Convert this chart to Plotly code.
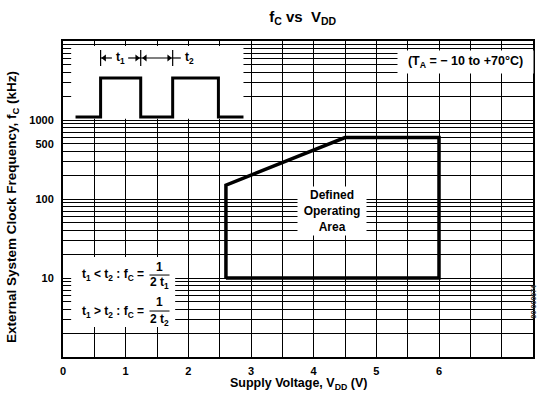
import math
import plotly.graph_objects as go

# Boundary of the defined operating area: supply voltage (V) vs clock frequency (kHz)
area_vdd = [2.6, 2.6, 4.5, 6.0, 6.0, 2.6]
area_fc = [10, 150, 600, 600, 10, 10]

# Axis ticks
x_tick_vals = [0, 1, 2, 3, 4, 5, 6]
x_tick_text = ["0", "1", "2", "3", "4", "5", "6"]
y_tick_vals = [10, 100, 500, 1000]
y_tick_text = ["10", "100", "500", "1000"]

# Clock waveform sketch (t1 high / t2 low)
pulse_x = [0.2, 0.6, 0.6, 1.24, 1.24, 1.75, 1.75, 2.48, 2.48, 2.88]
pulse_y = [1090, 1090, 3400, 3400, 1090, 1090, 3400, 3400, 1090, 1090]

FONT = "Liberation Sans, Arial, Helvetica, sans-serif"
BLACK = "#000000"
DIM_Y = 6095  # height of the t1/t2 dimension line

minor_x = [0.5 * i for i in range(16)]
minor_y = [m * 10 ** k for k in range(4) for m in range(1, 10)] + [10000]

fig = go.Figure()


def white_box(x0, x1, y0, y1):
    fig.add_trace(go.Scatter(
        x=[x0, x1, x1, x0, x0], y=[y0, y0, y1, y1, y0],
        mode="lines", fill="toself", fillcolor="white",
        line=dict(width=0, color="white"), hoverinfo="skip"))


def seg(xs, ys, width=1.2):
    fig.add_trace(go.Scatter(x=xs, y=ys, mode="lines",
                             line=dict(color=BLACK, width=width),
                             hoverinfo="skip"))


def heads(xs, symbol):
    fig.add_trace(go.Scatter(x=xs, y=[DIM_Y] * len(xs), mode="markers",
                             marker=dict(symbol=symbol, size=6, color=BLACK,
                                         line=dict(width=0)),
                             hoverinfo="skip"))


# blank panels for the waveform sketch and the formulas
white_box(0.13, 2.88, 1040, 8650)
white_box(0.13, 1.79, 2.4, 18.4)

# operating area outline
fig.add_trace(go.Scatter(x=area_vdd, y=area_fc, mode="lines",
                         line=dict(color=BLACK, width=3.5),
                         hoverinfo="skip"))

# waveform
fig.add_trace(go.Scatter(x=pulse_x, y=pulse_y, mode="lines",
                         line=dict(color=BLACK, width=3),
                         hoverinfo="skip"))

# dimension markers above the waveform
seg([0.6, 0.6, None, 1.24, 1.24, None, 1.75, 1.75],
    [4830, 7690, None, 4830, 7690, None, 4830, 7690])
seg([0.6, 0.78, None, 1.04, 1.24, None, 1.24, 1.75, None, 1.75, 1.88],
    [DIM_Y, DIM_Y, None, DIM_Y, DIM_Y, None, DIM_Y, DIM_Y, None, DIM_Y, DIM_Y])
heads([0.66, 1.31], "triangle-left")
heads([1.18, 1.69], "triangle-right")

# fraction bars
seg([1.38, 1.70], [10.9, 10.9], width=1)
seg([1.38, 1.70], [3.82, 3.82], width=1)

ann = []


def text(x, y, s, size=12, **kw):
    d = dict(x=x, y=y, xref="x", yref="y", text=s, showarrow=False,
             font=dict(size=size, family=FONT, color=BLACK, weight="bold"))
    d.update(kw)
    ann.append(d)


text(0.91, math.log10(DIM_Y), "t<sub>1</sub>")
text(2.02, math.log10(DIM_Y), "t<sub>2</sub>")

text(6.42, math.log10(5420), "(T<sub>A</sub> = − 10 to +70°C)", size=12.5,
     bgcolor="white", width=133, height=20)
text(4.29, math.log10(70.5), "Defined<br>Operating<br>Area",
     bgcolor="white", width=66, height=46)

text(1.33, 1.038, "t<sub>1</sub> < t<sub>2</sub> : f<sub>C</sub> =", xanchor="right")
text(1.54, 1.139, "1")
text(1.54, 0.937, "2 t<sub>1</sub>")
text(1.33, 0.570, "t<sub>1</sub> > t<sub>2</sub> : f<sub>C</sub> =", xanchor="right")
text(1.54, 0.696, "1")
text(1.54, 0.468, "2 t<sub>2</sub>")

# axis titles and figure code
ann.append(dict(x=-0.106, y=0.475, xref="paper", yref="paper", textangle=-90,
                text="External System Clock Frequency, f<sub>C</sub> (kHz)",
                showarrow=False, xanchor="center", yanchor="middle",
                font=dict(size=13.5, family=FONT, color=BLACK, weight="bold")))
ann.append(dict(x=0.5, y=-0.085, xref="paper", yref="paper",
                text="Supply Voltage, V<sub>DD</sub> (V)",
                showarrow=False, xanchor="center", yanchor="middle",
                font=dict(size=12.5, family=FONT, color=BLACK, weight="bold")))
ann.append(dict(x=1.0127, y=0.117, xref="paper", yref="paper", textangle=-90,
                text="90-000074", showarrow=False,
                font=dict(size=7, family=FONT, color="#333333")))

axis_common = dict(showline=True, mirror=True, linecolor=BLACK, linewidth=2,
                   showgrid=True, gridcolor=BLACK, gridwidth=1,
                   zeroline=False, ticks="", tickmode="array",
                   tickfont=dict(size=11, family=FONT, color=BLACK, weight="bold"))

fig.update_layout(
    width=544, height=397,
    margin=dict(l=63, r=9, t=41, b=40),
    paper_bgcolor="white", plot_bgcolor="white",
    showlegend=False, hovermode=False,
    font=dict(family=FONT, color=BLACK, weight="bold"),
    title=dict(text="f<sub>C</sub> vs  V<sub>DD</sub>", x=0.51, xref="paper",
               xanchor="center", y=1 - 17 / 397, yanchor="middle",
               font=dict(size=15, family=FONT, color=BLACK, weight="bold")),
    xaxis=dict(range=[0, 7.5], tickvals=x_tick_vals, ticktext=x_tick_text,
               ticklabelstandoff=3,
               minor=dict(tickvals=minor_x, showgrid=True, gridcolor=BLACK,
                          gridwidth=1, ticks=""),
               **axis_common),
    yaxis=dict(type="log", range=[0, 4], tickvals=y_tick_vals,
               ticktext=y_tick_text, ticklabelstandoff=5,
               minor=dict(tickvals=minor_y, showgrid=True, gridcolor=BLACK,
                          gridwidth=1, ticks=""),
               **axis_common),
    annotations=ann,
)

fig.write_html("out.html")
